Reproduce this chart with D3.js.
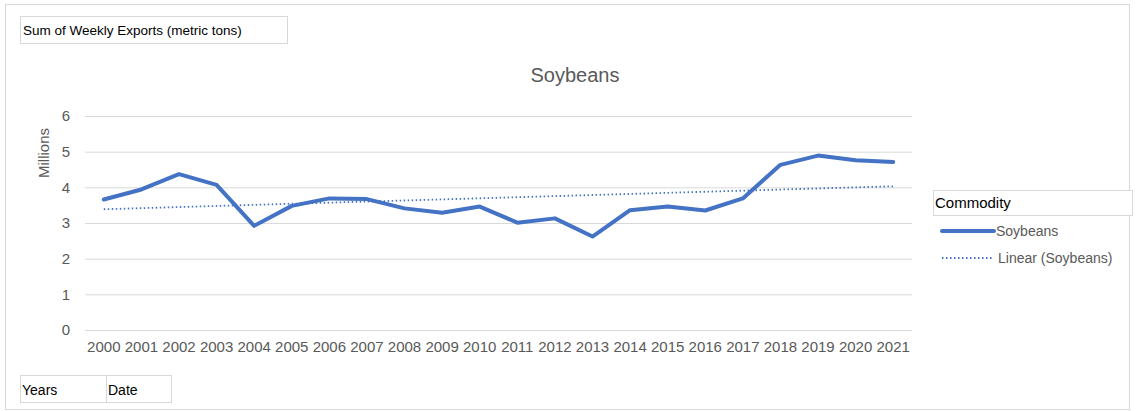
<!DOCTYPE html>
<html><head><meta charset="utf-8">
<script src="https://cdn.jsdelivr.net/npm/d3@7"></script>
<style>body{margin:0;background:#fff}svg{display:block;font-family:"Liberation Sans",Arial,sans-serif}</style>
</head><body><svg id="c" width="1138" height="411"></svg>
<script>
const years = ["2000","2001","2002","2003","2004","2005","2006","2007","2008","2009","2010","2011","2012","2013","2014","2015","2016","2017","2018","2019","2020","2021"];
const soybeans = [3.66,3.94,4.37,4.07,2.92,3.48,3.69,3.67,3.41,3.29,3.46,3.01,3.13,2.62,3.36,3.46,3.35,3.69,4.63,4.89,4.76,4.71];
const yTicks = [0,1,2,3,4,5,6];

const svg = d3.select("#c");
const blue = "#4472C4", grey = "#595959";
// outer frame
svg.append("rect").attr("x",5.5).attr("y",4.5).attr("width",1124).attr("height",405).attr("fill","#fff").attr("stroke","#d9d9d9");

const x = d3.scaleBand().domain(years).range([85,912]);
const y = d3.scaleLinear().domain([0,6]).range([330,116]);

// gridlines
svg.append("g").selectAll("line").data(yTicks).join("line")
  .attr("x1",85).attr("x2",912).attr("y1",d=>y(d)+0.5).attr("y2",d=>y(d)+0.5)
  .attr("stroke","#d9d9d9").attr("stroke-width",1);

// y axis
const ya = svg.append("g").attr("transform","translate(70,0)")
  .call(d3.axisLeft(y).tickValues(yTicks).tickFormat(d3.format("d")).tickSize(0).tickPadding(0));
ya.select(".domain").remove();
ya.selectAll("text").attr("font-size",15).attr("fill",grey).attr("font-family","Liberation Sans, Arial, sans-serif");

// x axis
const xa = svg.append("g").attr("transform","translate(0,341)")
  .call(d3.axisBottom(x).tickSize(0).tickPadding(0));
xa.select(".domain").remove();
xa.selectAll("text").attr("font-size",15).attr("fill",grey).attr("dy","0.71em").attr("font-family","Liberation Sans, Arial, sans-serif");

// axis title
svg.append("text").attr("transform","translate(49,153) rotate(-90)").attr("text-anchor","middle")
  .attr("font-size",15).attr("fill",grey).text("Millions");

// chart title
svg.append("text").attr("x",575).attr("y",82).attr("text-anchor","middle").attr("font-size",20).attr("fill",grey).text("Soybeans");

// trendline (least squares fit of series)
const idx = soybeans.map((v,i)=>i);
const mx = d3.mean(idx), my = d3.mean(soybeans);
const slope = d3.sum(idx,i=>(i-mx)*(soybeans[i]-my))/d3.sum(idx,i=>(i-mx)*(i-mx));
const icpt = my - slope*mx;
const trend = years.map((yr,i)=>({yr, v: icpt + slope*i}));
const cx = d=>x(d)+x.bandwidth()/2;
svg.append("path").datum(trend).attr("fill","none").attr("stroke",blue).attr("stroke-width",1.8)
  .attr("stroke-dasharray","1.5 2.5")
  .attr("d",d3.line().x(d=>cx(d.yr)).y(d=>y(d.v)));

// main line
svg.append("path").datum(years.map((yr,i)=>({yr,v:soybeans[i]}))).attr("fill","none")
  .attr("stroke",blue).attr("stroke-width",4).attr("stroke-linejoin","round").attr("stroke-linecap","round")
  .attr("d",d3.line().x(d=>cx(d.yr)).y(d=>y(d.v)));

// top-left field button
svg.append("rect").attr("x",20.5).attr("y",16.5).attr("width",267).attr("height",27).attr("fill","#fff").attr("stroke","#d9d9d9");
svg.append("text").attr("x",23).attr("y",35).attr("font-size",13.5).attr("fill","#000").text("Sum of Weekly Exports (metric tons)");

// bottom field buttons
svg.append("rect").attr("x",20.5).attr("y",375.5).attr("width",151).attr("height",27).attr("fill","#fff").attr("stroke","#d9d9d9");
svg.append("line").attr("x1",106.5).attr("x2",106.5).attr("y1",375.5).attr("y2",402.5).attr("stroke","#d9d9d9");
svg.append("text").attr("x",22).attr("y",395).attr("font-size",14).attr("fill","#000").text("Years");
svg.append("text").attr("x",108).attr("y",395).attr("font-size",14).attr("fill","#000").text("Date");

// legend
svg.append("rect").attr("x",933.5).attr("y",190.5).attr("width",199).attr("height",25).attr("fill","#fff").attr("stroke","#d9d9d9");
svg.append("text").attr("x",935).attr("y",208).attr("font-size",15).attr("fill","#000").text("Commodity");
svg.append("line").attr("x1",942).attr("x2",994).attr("y1",231).attr("y2",231).attr("stroke",blue).attr("stroke-width",4).attr("stroke-linecap","round");
svg.append("text").attr("x",996).attr("y",236).attr("font-size",14).attr("fill",grey).text("Soybeans");
svg.append("line").attr("x1",942).attr("x2",993).attr("y1",258).attr("y2",258).attr("stroke",blue).attr("stroke-width",1.8).attr("stroke-dasharray","1.5 2.5");
svg.append("text").attr("x",998).attr("y",263).attr("font-size",14).attr("fill",grey).text("Linear (Soybeans)");
</script></body></html>
